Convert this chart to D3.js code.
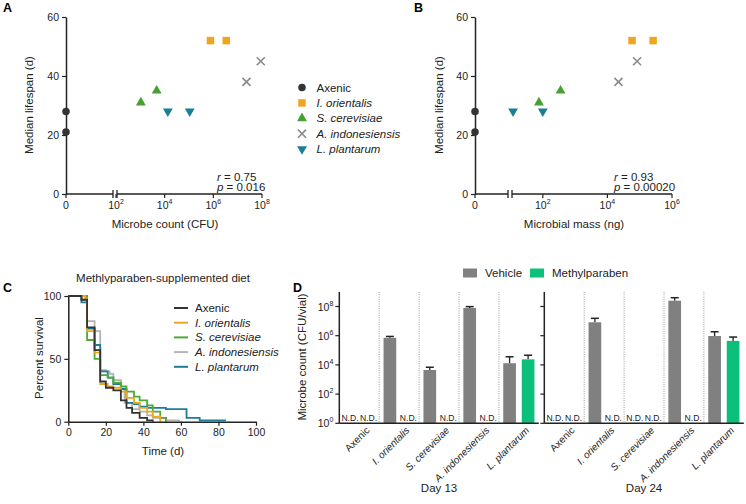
<!DOCTYPE html>
<html><head><meta charset="utf-8">
<script src="https://cdn.jsdelivr.net/npm/d3@7"></script>
<style>
body{margin:0;background:#fff;}
svg{font-family:"Liberation Sans",Arial,sans-serif;}
</style></head>
<body><svg id="c" width="746" height="504"></svg>
<script>
// ---------- DATA ----------
const strains = ["Axenic","I. orientalis","S. cerevisiae","A. indonesiensis","L. plantarum"];
const strainColors = ["#333333","#EFA51D","#46A032","#8A8A8A","#1A7F96"];
const lifespan = [[28,21],[52,52],[31,35],[38,45],[28,28]];
const microbeCount = [[0,0],[7.6e5,3.4e6],[1.05e3,4.7e3],[2.3e7,8.9e7],[1.35e4,1.07e5]];
const microbialMass = [[0,0],[5.8e4,2.6e5],[76,355],[2.2e4,8.3e4],[12,100]];
const statsA = ["0.75","0.016"];
const statsB = ["0.93","0.00020"];
const lifespanTicks = [0,20,40,60];
const countTicks = [2,4,6,8];
const massTicks = [2,4,6];

const survAxenic = [[0,100],[7,97],[10,75],[14,57],[17,32],[20,27],[24,25],[28,17],[31,11],[34,7],[38,3],[42,1],[45,0]];
const survOrientalis = [[0,100],[9,98],[10,72],[14,55],[17,30],[21,28],[24,27],[28,24],[31,19],[35,15],[38,11],[42,8],[45,4],[49,0]];
const survCerevisiae = [[0,100],[10,65],[14,50],[17,37],[21,35],[24,31],[28,28],[31,24],[35,20],[38,17],[42,13],[45,8],[49,3],[52,0]];
const survIndonesiensis = [[0,100],[7,97],[10,80],[14,72],[17,41],[20,40],[22,38],[24,33],[28,26],[30,15],[34,10],[38,8],[42,5],[45,3],[52,1],[59,0]];
const survPlantarum = [[0,100],[7,95],[10,74],[14,61],[17,40],[21,35],[24,30],[28,26],[31,15],[35,14],[38,12],[42,11],[52,10],[56,10],[63,3],[70,1],[84,1]];
const survColors = ["#333333","#EFA51D","#4CAB34","#B4B4B4","#1A7F96"];
const timeTicks = [0,20,40,60,80,100];
const survTicks = [0,50,100];

const day13Vehicle = [null,7.2e5,4.5e3,7.9e7,1.3e4];
const day13VehicleErr = [null,8.9e5,6.9e3,9.8e7,3.6e4];
const day13Methyl = [null,null,null,null,2.4e4];
const day13MethylErr = [null,null,null,null,4.6e4];
const day24Vehicle = [null,8.3e6,null,2.5e8,9.5e5];
const day24VehicleErr = [null,1.55e7,null,4.0e8,1.86e6];
const day24Methyl = [null,null,null,null,4.4e5];
const day24MethylErr = [null,null,null,null,8.1e5];
const treatments = ["Vehicle","Methylparaben"];
const treatColors = ["#808080","#0CC07B"];
const cfuTicks = [0,2,4,6,8];

// ---------- DRAW ----------
const svg = d3.select("#c");
const TICK = 10.5, TITLE = 11.5;
function sup(sel, base, exp){
  sel.text(null);
  sel.append("tspan").text(base);
  sel.append("tspan").attr("dy",-5).attr("font-size",7).text(exp);
}
function panelLetter(t,x,y){svg.append("text").attr("x",x).attr("y",y).attr("font-weight","bold").attr("font-size",12.5).text(t);}
const symbolFor = [d3.symbolCircle,d3.symbolSquare,d3.symbolTriangle,d3.symbolX,d3.symbolTriangle];
const symbolSize = [44,56,42,44,42];

function scatterPanel(opt){
  const g = svg.append("g");
  const y = d3.scaleLinear().domain([0,60]).range([194,17]);
  const xl = d3.scaleLog().domain(opt.logDomain).range(opt.logRange);
  const xp = v => v===0 ? opt.x0 : xl(v);
  g.append("g").attr("transform",`translate(${opt.x0},0)`)
   .call(d3.axisLeft(y).tickValues(lifespanTicks).tickSize(4).tickSizeOuter(0))
   .call(a=>{a.select(".domain").attr("stroke","#222").attr("stroke-width",1.5);
     a.selectAll("line").attr("stroke","#222").attr("stroke-width",1.2);
     a.selectAll("text").attr("font-size",TICK).attr("fill","#222").attr("font-family","Liberation Sans, Arial");});
  const yb = y(0);
  g.append("line").attr("x1",opt.x0).attr("x2",opt.breakX-2).attr("y1",yb).attr("y2",yb).attr("stroke","#222").attr("stroke-width",1.5);
  g.append("line").attr("x1",opt.breakX+2).attr("x2",opt.logRange[1]).attr("y1",yb).attr("y2",yb).attr("stroke","#222").attr("stroke-width",1.5);
  [opt.breakX-2,opt.breakX+2].forEach(bx=>g.append("line").attr("x1",bx).attr("x2",bx).attr("y1",yb-4).attr("y2",yb+4).attr("stroke","#222").attr("stroke-width",1.3));
  const tickG = g.append("g");
  const tv = [{v:0,x:opt.x0}].concat(opt.ticks.map(e=>({v:e,x:xl(Math.pow(10,e))})));
  tv.forEach(t=>{
    tickG.append("line").attr("x1",t.x).attr("x2",t.x).attr("y1",yb).attr("y2",yb+4).attr("stroke","#222").attr("stroke-width",1.2);
    const tx = tickG.append("text").attr("x",t.x).attr("y",yb+15).attr("text-anchor","middle").attr("font-size",TICK).attr("fill","#222");
    if(t.v===0) tx.text("0"); else sup(tx,"10",t.v);
  });
  g.append("text").attr("transform",`translate(${opt.yTitleX},105) rotate(-90)`).attr("text-anchor","middle").attr("font-size",TITLE).attr("fill","#222").text("Median lifespan (d)");
  g.append("text").attr("x",opt.xTitleX).attr("y",228).attr("text-anchor","middle").attr("font-size",TITLE).attr("fill","#222").text(opt.xTitle);
  strains.forEach((s,i)=>{
    opt.xs[i].forEach((xv,j)=>{
      const px = xp(xv), py = y(lifespan[i][j]);
      const p = g.append("path").attr("d",d3.symbol().type(symbolFor[i]).size(symbolSize[i])())
        .attr("transform",`translate(${px},${py})`+(i===4?" rotate(180)":""));
      if(i===3) p.attr("fill","none").attr("stroke",strainColors[i]).attr("stroke-width",1.6);
      else p.attr("fill",strainColors[i]);
    });
  });
  const st = g.append("text").attr("x",opt.statX).attr("y",180.5).attr("font-size",TITLE).attr("fill","#222");
  st.append("tspan").attr("font-style","italic").text("r");
  st.append("tspan").text(" = "+opt.stats[0]);
  const sp = g.append("text").attr("x",opt.statX).attr("y",191).attr("font-size",TITLE).attr("fill","#222");
  sp.append("tspan").attr("font-style","italic").text("p");
  sp.append("tspan").text(" = "+opt.stats[1]);
}
panelLetter("A",3,12);
panelLetter("B",414,12);
scatterPanel({x0:66,breakX:115,logDomain:[1e2,1e8],logRange:[116,262],ticks:countTicks,xs:microbeCount,
  yTitleX:33,xTitleX:165,xTitle:"Microbe count (CFU)",statX:217,stats:statsA});
scatterPanel({x0:475,breakX:510,logDomain:[1e1,1e6],logRange:[510.5,672],ticks:massTicks,xs:microbialMass,
  yTitleX:443,xTitleX:574,xTitle:"Microbial mass (ng)",statX:614,stats:statsB});

const legAB = svg.append("g");
strains.forEach((s,i)=>{
  const yy = 87.5 + i*15.4;
  const p = legAB.append("path").attr("d",d3.symbol().type(symbolFor[i]).size(symbolSize[i])())
    .attr("transform",`translate(302,${yy})`+(i===4?" rotate(180)":""));
  if(i===3) p.attr("fill","none").attr("stroke",strainColors[i]).attr("stroke-width",1.6);
  else p.attr("fill",strainColors[i]);
  legAB.append("text").attr("x",316.5).attr("y",yy+4).attr("font-size",TITLE).attr("fill","#222")
    .attr("font-style",i===0?"normal":"italic").text(s);
});

// ---------- Panel C ----------
panelLetter("C",3,292);
const gC = svg.append("g");
const xC = d3.scaleLinear().domain([0,100]).range([68.3,256]);
const yC = d3.scaleLinear().domain([0,100]).range([421.7,296]);
gC.append("text").attr("x",163).attr("y",282).attr("text-anchor","middle").attr("font-size",TITLE).attr("fill","#222").text("Methlyparaben-supplemented diet");
const survAll = [survAxenic,survOrientalis,survCerevisiae,survIndonesiensis,survPlantarum];
const lineC = d3.line().x(d=>xC(d[0])).y(d=>yC(d[1])).curve(d3.curveStepAfter);
[3,4,2,1,0].forEach(i=>{
  gC.append("path").attr("d",lineC(survAll[i])).attr("fill","none").attr("stroke",survColors[i]).attr("stroke-width",1.8);
});
gC.append("g").attr("transform","translate(0,421.7)").call(d3.axisBottom(xC).tickValues(timeTicks).tickSize(4).tickSizeOuter(0))
  .call(a=>{a.select(".domain").attr("stroke","#222").attr("stroke-width",1.5);a.selectAll("line").attr("stroke","#222").attr("stroke-width",1.2);
    a.selectAll("text").attr("font-size",TICK).attr("fill","#222").attr("font-family","Liberation Sans, Arial");});
gC.append("g").attr("transform","translate(68.3,0)").call(d3.axisLeft(yC).tickValues(survTicks).tickSize(4).tickSizeOuter(0))
  .call(a=>{a.select(".domain").attr("stroke","#222").attr("stroke-width",1.5);a.selectAll("line").attr("stroke","#222").attr("stroke-width",1.2);
    a.selectAll("text").attr("font-size",TICK).attr("fill","#222").attr("font-family","Liberation Sans, Arial");});
gC.append("text").attr("transform","translate(43,358) rotate(-90)").attr("text-anchor","middle").attr("font-size",TITLE).attr("fill","#222").text("Percent survival");
gC.append("text").attr("x",163).attr("y",455).attr("text-anchor","middle").attr("font-size",TITLE).attr("fill","#222").text("Time (d)");
strains.forEach((s,i)=>{
  const yy = 308 + i*14.7;
  gC.append("line").attr("x1",174).attr("x2",188).attr("y1",yy).attr("y2",yy).attr("stroke",survColors[i]).attr("stroke-width",2);
  gC.append("text").attr("x",195).attr("y",yy+4).attr("font-size",TITLE).attr("fill","#222").attr("font-style",i===0?"normal":"italic").text(s);
});

// ---------- Panel D ----------
panelLetter("D",293,292);
const gD = svg.append("g");
const yD = d3.scaleLog().domain([1,1e9]).range([423.3,291.9]);
treatments.forEach((t,i)=>{
  const lx = [463,530][i];
  gD.append("rect").attr("x",lx).attr("y",268.5).attr("width",14).attr("height",9).attr("fill",treatColors[i]);
  gD.append("text").attr("x",lx+22).attr("y",277).attr("font-size",TITLE).attr("fill","#222").text(t);
});
gD.append("text").attr("transform","translate(306,357) rotate(-90)").attr("text-anchor","middle").attr("font-size",TITLE).attr("fill","#222").text("Microbe count (CFU/vial)");
const days = [
  {x0:339.3,label:"Day 13",veh:day13Vehicle,vehE:day13VehicleErr,met:day13Methyl,metE:day13MethylErr,labels:true},
  {x0:544.3,label:"Day 24",veh:day24Vehicle,vehE:day24VehicleErr,met:day24Methyl,metE:day24MethylErr,labels:false}
];
const groupW = 39.9;
days.forEach(d=>{
  const xG = d3.scaleBand().domain(strains).range([d.x0,d.x0+5*groupW]).padding(0);
  const xT = d3.scaleBand().domain(treatments).range([0,groupW]).paddingInner(0.314).paddingOuter(0.235);
  strains.slice(1).forEach(s=>{
    const sx = xG(s);
    gD.append("line").attr("x1",sx).attr("x2",sx).attr("y1",291.9).attr("y2",423.3).attr("stroke","#999").attr("stroke-width",1).attr("stroke-dasharray","1,1.3");
  });
  strains.forEach((s,i)=>{
    [[d.veh,d.vehE],[d.met,d.metE]].forEach((arr,k)=>{
      const bx = xG(s)+xT(treatments[k]), bw = xT.bandwidth();
      const v = arr[0][i];
      if(v===null){
        gD.append("text").attr("x",bx+bw/2).attr("y",420.5).attr("text-anchor","middle").attr("font-size",8.6).attr("fill","#222").text("N.D.");
      } else {
        const e = arr[1][i];
        gD.append("line").attr("x1",bx+bw/2).attr("x2",bx+bw/2).attr("y1",yD(v)).attr("y2",yD(e)).attr("stroke","#222").attr("stroke-width",1.3);
        gD.append("line").attr("x1",bx+bw/2-4).attr("x2",bx+bw/2+4).attr("y1",yD(e)).attr("y2",yD(e)).attr("stroke","#222").attr("stroke-width",1.5);
        gD.append("rect").attr("x",bx).attr("y",yD(v)).attr("width",bw).attr("height",yD(1)-yD(v)).attr("fill",treatColors[k]);
      }
    });
    gD.append("text").attr("transform",`translate(${xG(s)+groupW/2+11},431) rotate(-45)`).attr("text-anchor","end")
      .attr("font-size",10).attr("fill","#222").attr("font-style",i===0?"normal":"italic").text(s);
  });
  gD.append("line").attr("x1",d.x0).attr("x2",d.x0+5*groupW).attr("y1",423.3).attr("y2",423.3).attr("stroke","#222").attr("stroke-width",1.5);
  gD.append("line").attr("x1",d.x0).attr("x2",d.x0).attr("y1",291.9).attr("y2",423.3).attr("stroke","#222").attr("stroke-width",1.5);
  cfuTicks.forEach(e=>{
    const ty = yD(Math.pow(10,e));
    gD.append("line").attr("x1",d.x0-4).attr("x2",d.x0).attr("y1",ty).attr("y2",ty).attr("stroke","#222").attr("stroke-width",1.2);
    if(d.labels){
      const tx = gD.append("text").attr("x",d.x0-6).attr("y",ty+4).attr("text-anchor","end").attr("font-size",TICK).attr("fill","#222");
      tx.append("tspan").text("10");
      tx.append("tspan").attr("dy",-5).attr("font-size",7).text(e);
    }
  });
  gD.append("text").attr("x",d.x0+2.5*groupW).attr("y",492).attr("text-anchor","middle").attr("font-size",TITLE).attr("fill","#222").text(d.label);
});
</script></body></html>
